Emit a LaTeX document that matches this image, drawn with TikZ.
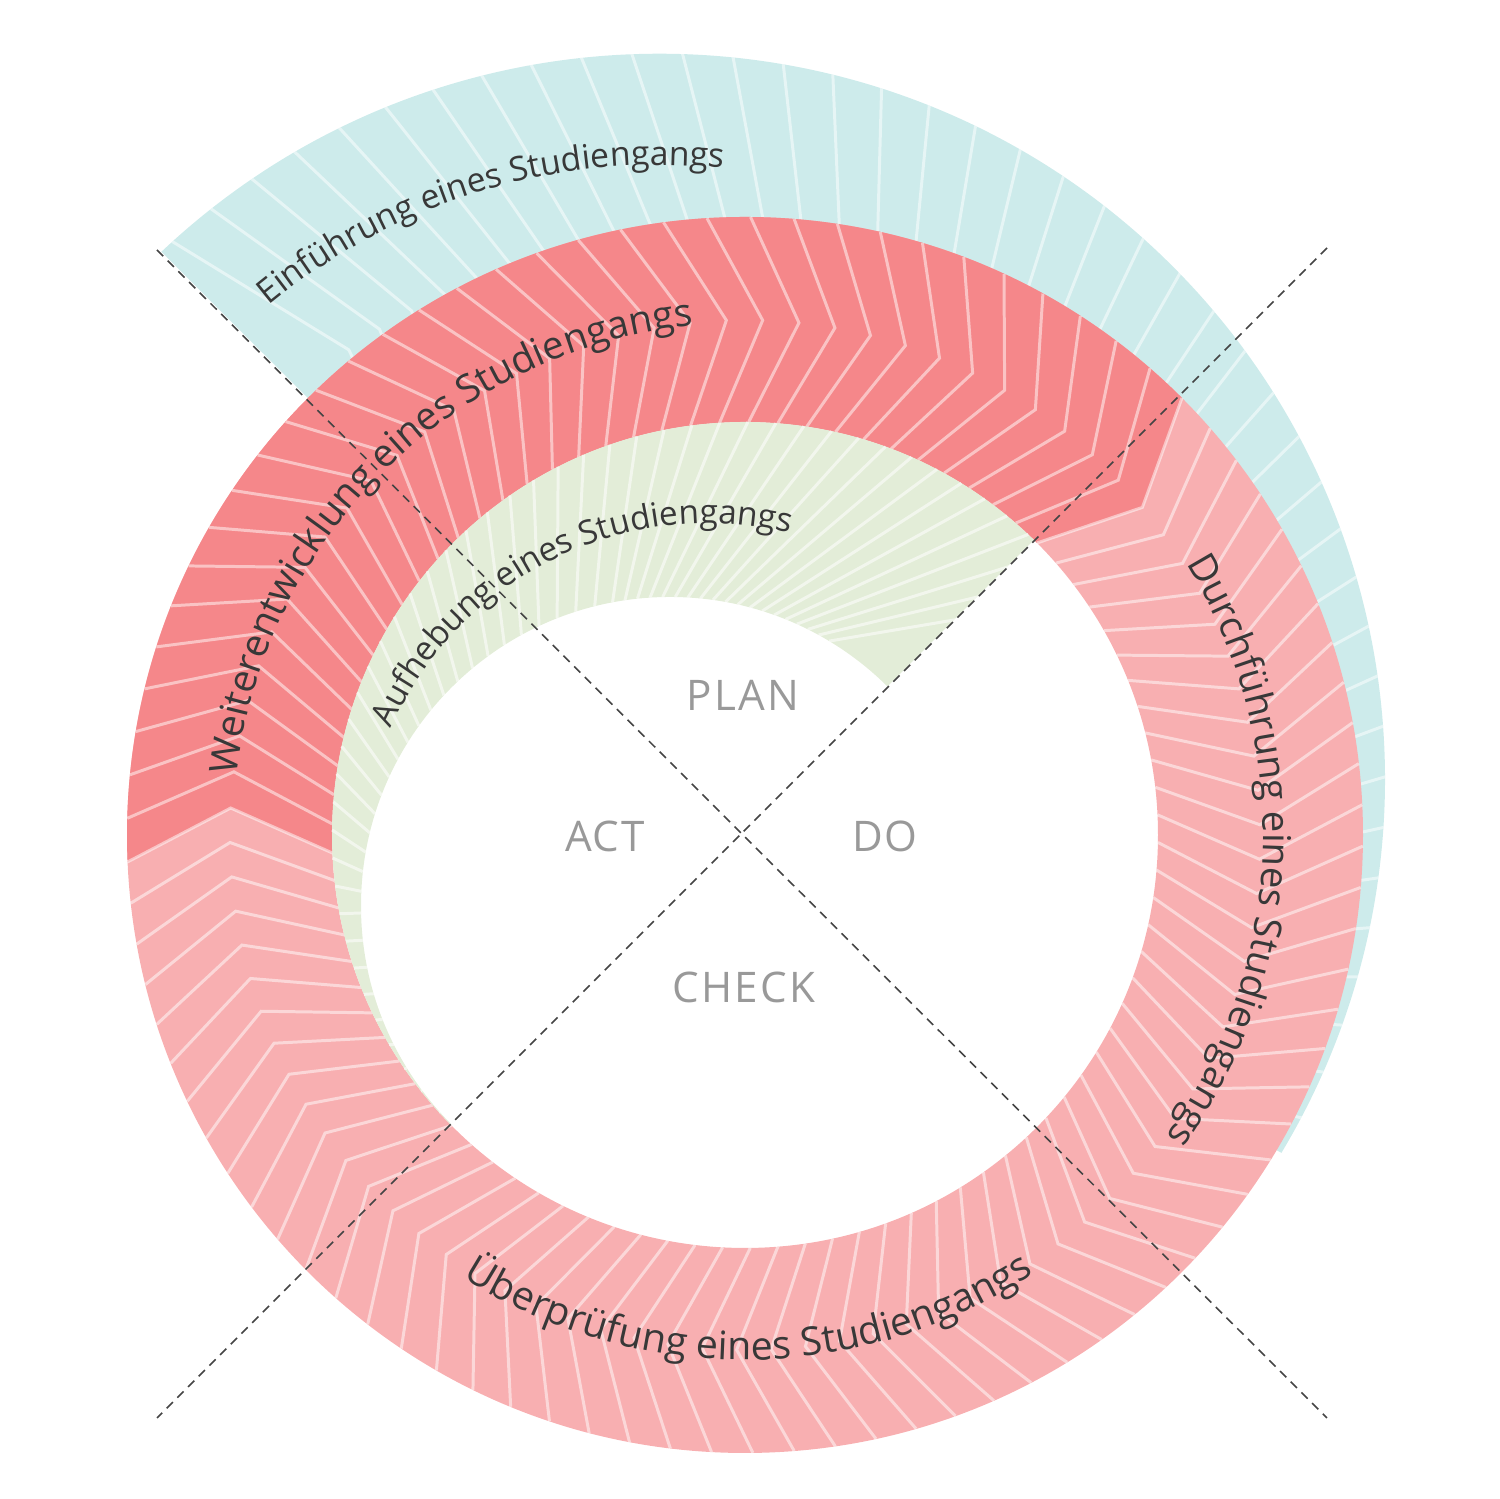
\documentclass[tikz,border=0pt]{standalone}
\usepackage{fontspec}
\setmainfont{Open Sans}
\usetikzlibrary{calc,decorations.text}
\definecolor{tealc}{HTML}{CDEBEB}
\definecolor{pinkc}{HTML}{F8AFB1}
\definecolor{redc}{HTML}{F5878A}
\definecolor{greenc}{HTML}{E3EDD8}
\definecolor{txtc}{HTML}{383838}
\definecolor{lblc}{HTML}{999999}
\definecolor{dashc}{HTML}{444444}
\newcommand\bandfont[1]{\fontsize{#1}{#1}\selectfont}
\begin{document}
\begin{tikzpicture}[x=1cm,y=1cm,
  wl/.style={white, opacity=0.5, line width=0.85pt},
  gl/.style={white, opacity=0.55, line width=0.85pt},
  dl/.style={draw=dashc, line width=0.45pt, dash pattern=on 2.5pt off 1.8pt},
  quad/.style={text=lblc, font=\bandfont{12}\addfontfeatures{LetterSpace=5}}]
\useasboundingbox (0,0) rectangle (15,14.99);
\coordinate (A) at (7.45,6.64);
\coordinate (T) at (6.596,7.198);
\coordinate (B) at (6.70,5.93);
\coordinate (G) at (7.075,6.285);

% teal band
\begin{scope}
\clip (1.6135,12.4715) arc[start angle=133.37, end angle=-31, radius=7.255] -- ($(A)+(-31:5)$) arc[start angle=-31, end angle=135, radius=5] -- cycle;
\fill[tealc] (0,0) rectangle (15,15);
\foreach \k in {0,...,44} {
  \pgfmathsetmacro\ang{132.4-4*\k}
  \draw[wl] ($(T)+(\ang:7.35)$) -- ($(T)+(\ang-6.5:5.3)$) -- ($(T)+(\ang:3.3)$);
}
\end{scope}

% pink ring and red band
\fill[pinkc, even odd rule] (A) circle[radius=6.18] (A) circle[radius=4.13];
\fill[redc] ($(A)+(182.5:4.13)$) arc[start angle=182.5, end angle=45, radius=4.13]
  -- ($(A)+(39.5:5.15)$) -- ($(A)+(45:6.18)$)
  arc[start angle=45, end angle=182.5, radius=6.18] -- ($(A)+(177:5.15)$) -- cycle;
\begin{scope}[shift={(A)}]
\foreach \k in {0,...,34} {\pgfmathsetmacro\ang{182.5-\k*137.5/34}
  \draw[wl] (\ang:4.13) -- (\ang-5.5:5.15) -- (\ang:6.18);}
\foreach \k in {1,...,57} {\pgfmathsetmacro\ang{45-\k*222.5/58}
  \draw[wl] (\ang:4.13) -- (\ang-5.5:5.15) -- (\ang:6.18);}
\end{scope}

% green band
\begin{scope}
\clip (-1,-1.75) -- (16,15.25) -- (-1,15.25) -- cycle;
\fill[greenc, even odd rule] (A) circle[radius=4.13] (B) circle[radius=3.09];
\foreach \k in {0,...,48} {
  \pgfmathsetmacro\ao{35+\k*3.9}
  \pgfmathsetmacro\fo{(\ao<54) ? (16+(54-\ao)*8/19) : ((\ao<106) ? (16-(\ao-54)*20.8/52) : ((\ao<190) ? (-4.8-(\ao-106)*5.2/84) : (-10+(\ao-190)*10/33.4)))}
  \pgfmathsetmacro\ai{\ao+\fo}
  \draw[gl] ($(A)+(\ao:4.13)$) -- ($(B)+(\ai:3.09)$);
}
\end{scope}

% dashed cross
\coordinate (d1s) at (1.57,12.49);
\coordinate (d1e) at (13.27,0.81);
\coordinate (d2s) at (13.27,12.51);
\coordinate (d2e) at (1.57,0.81);
\draw[dl] (d1s) -- (d1e);
\draw[dl] (d2s) -- (d2e);

% band labels
\path[decorate, decoration={text along path, text align=center, text color=txtc,
  text={|\bandfont{9.6}|Einführung eines Studiengangs}}]
  ($(T)+(151.8:6.14)$) arc[start angle=151.8, end angle=61.8, radius=6.14];
\path[decorate, decoration={text along path, text align=center, text color=txtc,
  text={|\bandfont{11}|Weiterentwicklung eines Studiengangs}}]
  ($(A)+(184.5:5.12)$) arc[start angle=184.5, end angle=84.5, radius=5.12];
\path[decorate, decoration={text along path, text align=center, text color=txtc,
  text={|\bandfont{9.5}|Aufhebung eines Studiengangs}}]
  ($(G)+(161:3.47)$) arc[start angle=161, end angle=71, radius=3.47];
\path[decorate, decoration={text along path, text align=center, text color=txtc,
  text={|\bandfont{10.9}|Durchführung eines Studiengangs}}]
  ($(A)+(44:5.18)$) arc[start angle=44, end angle=-48, radius=5.18];
\path[decorate, decoration={text along path, text align=center, text color=txtc,
  text={|\bandfont{11.2}|Überprüfung eines Studiengangs}}]
  ($(A)+(225.4:5.25)$) arc[start angle=225.4, end angle=315.4, radius=5.25];

% PDCA labels
\node[quad] (plan) at (7.43,8.04) {PLAN};
\node[quad] (act) at (6.05,6.63) {ACT};
\node[quad] (do) at (8.85,6.63) {DO};
\node[quad] (check) at (7.44,5.12) {CHECK};
\end{tikzpicture}
\end{document}
